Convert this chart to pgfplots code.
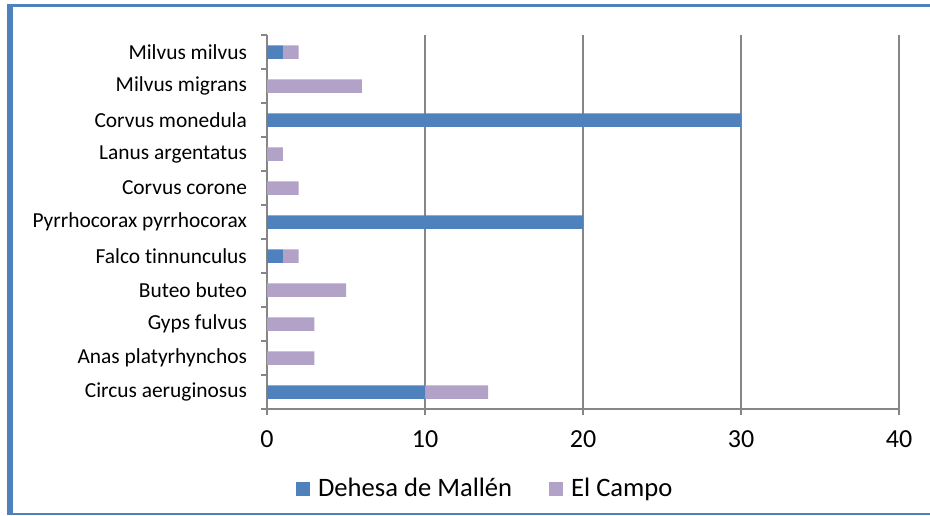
\documentclass[border=0pt]{standalone}
\usepackage{fontspec}
\setmainfont{Carlito}[Ligatures=NoCommon]
\usepackage{pgfplots}
\pgfplotsset{compat=1.18}
\definecolor{cblue}{RGB}{79,129,189}
\definecolor{cpurple}{RGB}{179,162,199}
\definecolor{cgray}{RGB}{134,134,134}
\definecolor{cframe}{RGB}{79,129,189}
\begin{document}
\begin{tikzpicture}
\useasboundingbox (0,0) rectangle (465pt,257.5pt);
\draw[cframe, line width=1.4pt] (3.75pt,254.8pt) -- (465pt,254.8pt);
\draw[cframe, line width=1pt] (3.75pt,0.75pt) -- (465pt,0.75pt);
\draw[cframe, line width=2.6pt] (5pt,0pt) -- (5pt,255.5pt);
\begin{axis}[
  at={(133.5pt,53pt)}, anchor=south west,
  scale only axis, width=316pt, height=187pt,
  xbar stacked, bar width=6.75pt,
  xmin=0, xmax=40, ymin=-0.5, ymax=10.5,
  xtick={0,10,20,30,40},
  ytick={0,...,10},
  minor ytick={-0.5,0.5,...,10.5},
  yticklabels={Circus aeruginosus,Anas platyrhynchos,Gyps fulvus,Buteo buteo,Falco tinnunculus,Pyrrhocorax pyrrhocorax,Corvus corone,Lanus argentatus,Corvus monedula,Milvus migrans,Milvus milvus},
  axis x line*=bottom, axis y line*=left,
  axis line style={cgray, line width=1pt, -},
  tick align=outside, major tick length=3pt, minor tick length=3pt,
  major y tick style={draw=none},
  minor y tick style={cgray, line width=1pt},
  major x tick style={cgray, line width=1pt},
  xmajorgrids, major grid style={cgray, line width=1pt},
  /pgf/number format/assume math mode=true,
  xticklabel style={font=\fontsize{13}{15}\selectfont, yshift=-4.5pt},
  yticklabel style={font=\fontsize{10.7}{12}\selectfont, xshift=-3.5pt},
  legend style={at={(0.347,-0.214)}, anchor=center, draw=none, fill=none,
    legend columns=2, font=\fontsize{13.3}{15}\selectfont,
    /tikz/every odd column/.append style={column sep=2pt},
    /tikz/every even column/.append style={column sep=16.5pt}},
  legend image code/.code={\fill[#1,draw=none] (0pt,-3.5pt) rectangle (7pt,3.5pt);},
]
\addplot[fill=cblue, draw=none] coordinates {(10,0) (0,1) (0,2) (0,3) (1,4) (20,5) (0,6) (0,7) (30,8) (0,9) (1,10)};
\addplot[fill=cpurple, draw=none] coordinates {(4,0) (3,1) (3,2) (5,3) (1,4) (0,5) (2,6) (1,7) (0,8) (6,9) (1,10)};
\legend{Dehesa de Mallén, El Campo}
\end{axis}
\end{tikzpicture}
\end{document}
